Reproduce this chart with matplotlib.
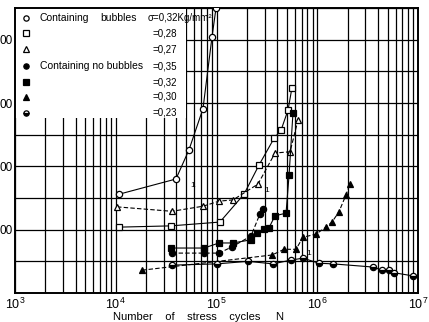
import numpy as np
import matplotlib
matplotlib.use('Agg')
import matplotlib.pyplot as plt
from matplotlib.lines import Line2D
from matplotlib.patches import Rectangle
from matplotlib.ticker import LogLocator, MultipleLocator, FixedLocator, FixedFormatter

plt.rcParams['font.family'] = ['Liberation Sans', 'DejaVu Sans']

# containing bubbles
n_b32 = [1.08e4, 3.96e4, 5.33e4, 7.34e4, 9.02e4, 9.89e4]
s_b32 = [156, 180, 226, 291, 404, 450]

n_b28 = [1.08e4, 3.53e4, 1.08e5, 1.875e5, 2.64e5, 3.72e5, 4.37e5, 5.13e5, 5.61e5]
s_b28 = [104, 106, 112, 156, 202, 244, 257, 289, 324]

n_b27 = [1.03e4, 3.61e4, 7.34e4, 1.06e5, 1.46e5, 2.58e5, 3.81e5, 5.37e5, 6.44e5]
s_b27 = [136, 129, 137, 145, 147, 172, 221, 223, 273]

# containing no bubbles
n_n35 = [3.61e4, 7.52e4, 1.06e5, 1.43e5, 2.20e5, 2.70e5, 2.90e5]
s_n35 = [63, 63, 63, 73, 90, 125, 133]

n_n32 = [3.53e4, 7.52e4, 1.06e5, 1.46e5, 2.20e5, 2.52e5, 2.96e5, 3.32e5, 3.81e5, 4.90e5, 5.25e5, 5.74e5]
s_n32 = [71, 71, 79, 79, 84, 95, 101, 103, 122, 126, 186, 284]

n_n30 = [1.82e4, 3.56e5, 4.68e5, 6.15e5, 7.22e5, 9.72e5, 1.22e6, 1.40e6, 1.64e6, 1.93e6, 2.11e6]
s_n30 = [36, 60, 69, 69, 88, 93, 104, 112, 128, 155, 172]

n_n23 = [3.61e4, 1.01e5, 2.05e5, 3.64e5, 5.49e5, 7.22e5, 1.04e6, 1.43e6, 3.57e6, 4.39e6, 5.2e6, 5.78e6, 8.92e6]
s_n23 = [44, 46, 50, 46, 52, 55, 47, 46, 41, 36, 36, 32, 27]

y_ticks = [100, 200, 300, 400]
y_tick_labels = ['00', '00', '00', '00']
stress_labels = ['\u03c3=0,32Kg/mm\u00b2', '=0,28', '=0,27', '=0,35', '=0,32', '=0,30', '=0,23']

fig = plt.figure(figsize=(4.29, 3.22), dpi=100)
ax = fig.add_axes([15/429, 29/322, 403/429, 285/322])
ax.set_xscale('log')
ax.set_xlim(1e3, 1e7)
ax.set_ylim(0, 450)

ax.xaxis.set_major_locator(LogLocator(base=10, numticks=10))
ax.xaxis.set_minor_locator(LogLocator(base=10, subs=np.arange(2, 10), numticks=20))
ax.yaxis.set_major_locator(FixedLocator(y_ticks))
ax.yaxis.set_major_formatter(FixedFormatter(y_tick_labels))
ax.yaxis.set_minor_locator(MultipleLocator(50))
ax.xaxis.set_minor_formatter(plt.NullFormatter())

ax.grid(which='both', color='black', lw=0.9)
ax.set_axisbelow(True)
ax.tick_params(which='both', length=0)
ax.tick_params(axis='y', pad=1.5, labelsize=8.5)
ax.tick_params(axis='x', pad=3, labelsize=9)
for sp in ax.spines.values():
    sp.set_linewidth(1.4)

ax.set_xlabel('Number    of    stress    cycles     N', fontsize=8, labelpad=0,
              va='top')
ax.xaxis.set_label_coords(0.455, -0.068)

# white area of the legend covering the grid
ax.add_patch(Rectangle((0, 0.615), 0.425, 0.385, transform=ax.transAxes,
                       facecolor='white', edgecolor='none', zorder=1.5))

mk = dict(color='black', ms=4.5, mew=0.9, zorder=3)
ax.plot(n_b32, s_b32, '-', lw=0.8, marker='o', mfc='white', **mk)
ax.plot(n_b28, s_b28, '-', lw=0.8, marker='s', mfc='white', **mk)
ax.plot(n_b27, s_b27, '--', lw=0.8, dashes=(4, 2), marker='^', mfc='white', **mk)
ax.plot(n_n35, s_n35, '--', lw=0.8, dashes=(4, 2), marker='o', mfc='black', **mk)
ax.plot(n_n32, s_n32, '-', lw=0.8, marker='s', mfc='black', **mk)
ax.plot(n_n30, s_n30, '--', lw=0.8, dashes=(4, 2), marker='^', mfc='black', **mk)
ax.plot(n_n23, s_n23, '-', lw=0.8, marker='o', fillstyle='bottom',
        mfcalt='white', **mk)

ax.text(5.5e4, 168, '1', fontsize=6, zorder=4)
ax.text(3.0e5, 160, '1', fontsize=6, zorder=4)
ax.text(7.8e5, 60, '1', fontsize=6, zorder=4)

# legend drawn by hand
markers = [('o', 'white', 'full'), ('s', 'white', 'full'), ('^', 'white', 'full'),
           ('o', 'black', 'full'), ('s', 'black', 'full'), ('^', 'black', 'full'),
           ('o', 'black', 'bottom')]
row_y = [0.965, 0.912, 0.856, 0.796, 0.740, 0.688, 0.632]
for (m, fc, fs), yy, lab in zip(markers, row_y, stress_labels):
    ax.add_line(Line2D([0.027], [yy], transform=ax.transAxes, marker=m, ms=3.8,
                       mfc=fc, mec='black', color='black', fillstyle=fs,
                       mfcalt='white', mew=0.9, zorder=4))
    x0 = 0.33 if lab.startswith('\u03c3') else 0.34
    ax.text(x0, yy, lab, transform=ax.transAxes, fontsize=7,
            va='center', ha='left', zorder=4)
ax.text(0.062, row_y[0], 'Containing', transform=ax.transAxes, fontsize=7.5,
        va='center', zorder=4)
ax.text(0.212, row_y[0], 'bubbles', transform=ax.transAxes, fontsize=7.5,
        va='center', zorder=4)
ax.text(0.062, row_y[3], 'Containing no bubbles', transform=ax.transAxes,
        fontsize=7.5, va='center', zorder=4)

fig.savefig('out.png', dpi=100)
